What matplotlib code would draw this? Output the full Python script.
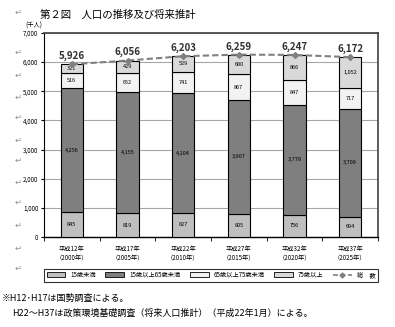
import matplotlib
matplotlib.use("Agg")
import matplotlib.pyplot as plt
from matplotlib.patches import Patch
from matplotlib.lines import Line2D
import numpy as np

plt.rcParams["font.family"] = ["Noto Sans CJK JP", "DejaVu Sans"]

# データ（千人）
years = ["平成12年\n（2000年）", "平成17年\n（2005年）", "平成22年\n（2010年）",
         "平成27年\n（2015年）", "平成32年\n（2020年）", "平成37年\n（2025年）"]
age_0_14 = [845, 819, 827, 805, 756, 694]
age_15_64 = [4256, 4155, 4104, 3907, 3778, 3709]
age_65_74 = [516, 652, 741, 867, 847, 717]
age_75 = [321, 429, 529, 680, 866, 1052]
total = [5926, 6056, 6203, 6259, 6247, 6172]
series_names = ["15歳未満", "15歳以上65歳未満", "65歳以上75歳未満", "75歳以上"]
series_colors = ["#bfbfbf", "#7f7f7f", "#f2f2f2", "#d9d9d9"]

W, H = 395, 327
fig = plt.figure(figsize=(W / 100, H / 100), dpi=100)
fig.patch.set_facecolor("white")

def fx(px):
    return px / W

def fy(py):
    return 1 - py / H

# タイトル
fig.text(fx(40), fy(15), "第２図　人口の推移及び将来推計", fontsize=7.5, va="center", ha="left")

# 段落記号（Word の改行マーク）
for yy in [12, 52, 75, 97, 117, 140, 160, 182, 202, 225, 248, 268]:
    fig.text(fx(18), fy(yy), "↵", fontsize=6, color="#909090", ha="center", va="center")

ax = fig.add_axes([fx(44), fy(237), fx(334), (237 - 33) / H])
x = np.arange(len(years))
bw = 0.4
bottom = np.zeros(len(years))
data = [age_0_14, age_15_64, age_65_74, age_75]
for vals, name, col in zip(data, series_names, series_colors):
    vals = np.array(vals)
    ax.bar(x, vals, bw, bottom=bottom, color=col, edgecolor="black", linewidth=0.8, zorder=3)
    for xi, b, v in zip(x, bottom, vals):
        ax.text(xi, b + v / 2, f"{v:,}", fontsize=4, ha="center", va="center", zorder=4)
    bottom = bottom + vals

ax.plot(x, total, color="#808080", linestyle=(0, (3, 1.5)), linewidth=1.5,
        marker="D", markersize=3, zorder=5)
for xi, t in zip(x, total):
    ax.text(xi, t + 280, f"{t:,}", fontsize=7, fontweight="bold", ha="center",
            va="center", color="#303030")

ax.set_xlim(-0.5, 5.5)
ax.set_ylim(0, 7000)
ax.set_yticks(range(0, 7001, 1000))
ax.set_yticklabels([f"{v:,}" for v in range(0, 7001, 1000)], fontsize=4.5)
ax.set_xticks(x)
ax.set_xticklabels(years, fontsize=4.5)
ax.set_xticks(np.arange(-0.5, 6, 1), minor=True)
ax.tick_params(axis="x", which="major", length=0, pad=6)
ax.tick_params(axis="x", which="minor", length=3, direction="out")
ax.tick_params(axis="y", length=2, pad=2)
ax.yaxis.grid(True, color="#a6a6a6", linewidth=0.8, zorder=0)
ax.set_axisbelow(True)
for s in ["top", "right"]:
    ax.spines[s].set_color("#404040")
    ax.spines[s].set_linewidth(1.2)
ax.spines["left"].set_linewidth(0.8)
ax.spines["bottom"].set_linewidth(1.0)

fig.text(fx(34), fy(26), "(千人)", fontsize=4.5, ha="center", va="center")

handles = [Patch(facecolor=c, edgecolor="black", linewidth=0.6) for c in series_colors]
handles.append(Line2D([0], [0], color="#808080", linestyle=(0, (3, 1.5)), marker="D",
                      markersize=2.5, linewidth=1.2))
labels = series_names + ["総　数"]
leg = fig.legend(handles, labels, loc="center", ncol=5,
                 bbox_to_anchor=(fx(44), fy(283), fx(334), 16 / H), mode="expand",
                 fontsize=4.5, frameon=True, fancybox=False, edgecolor="black",
                 handlelength=3, handleheight=0.8, columnspacing=1.5, borderaxespad=0)
leg.get_frame().set_linewidth(0.8)

fig.text(fx(2), fy(298), "※H12･H17は国勢調査による。", fontsize=6.5, ha="left", va="center")
fig.text(fx(12), fy(313), "H22～H37は政策環境基礎調査（将来人口推計）（平成22年1月）による。",
         fontsize=6.5, ha="left", va="center")

fig.savefig("out.png", dpi=100, facecolor="white")
